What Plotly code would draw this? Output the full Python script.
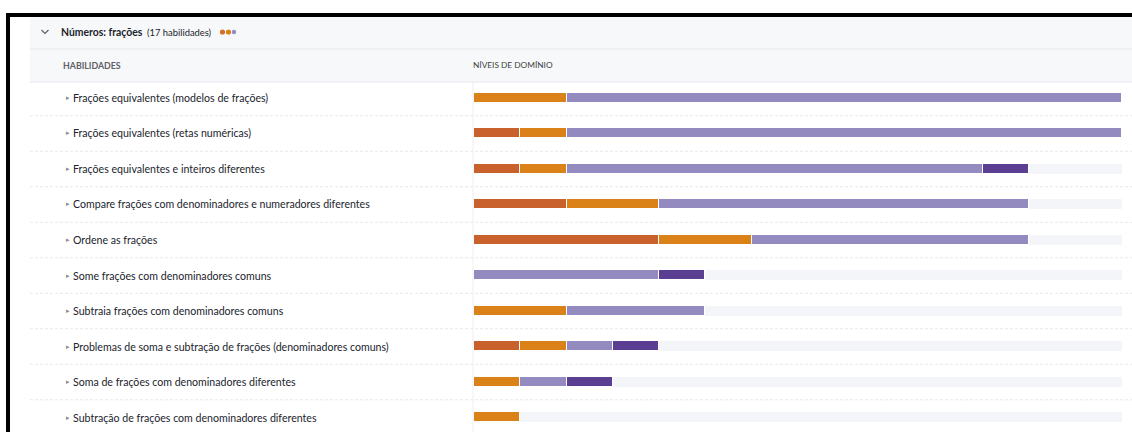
import plotly.graph_objects as go

W, H = 1132, 432

skills = [
    "Frações equivalentes (modelos de frações)",
    "Frações equivalentes (retas numéricas)",
    "Frações equivalentes e inteiros diferentes",
    "Compare frações com denominadores e numeradores diferentes",
    "Ordene as frações",
    "Some frações com denominadores comuns",
    "Subtraia frações com denominadores comuns",
    "Problemas de soma e subtração de frações (denominadores comuns)",
    "Soma de frações com denominadores diferentes",
    "Subtração de frações com denominadores diferentes",
]
tentado = [0, 1, 1, 2, 4, 0, 0, 1, 0, 0]
familiar = [2, 1, 1, 2, 2, 0, 2, 1, 1, 1]
proficiente = [12, 12, 9, 8, 6, 4, 3, 1, 1, 0]
dominado = [0, 0, 1, 0, 0, 1, 0, 1, 1, 0]
total_units = 14

level_names = ["Tentado", "Familiarizado", "Proficiente", "Dominado"]
level_colors = ["#C8612B", "#DA8217", "#938AC0", "#5A3E92"]
track_color = "#F4F5F8"

def px(x):
    return x / W

def py(y):
    return 1 - y / H

rows = list(range(len(skills)))
fig = go.Figure()
series = [tentado, familiar, proficiente, dominado]
for name, vals, col in zip(level_names, series, level_colors):
    fig.add_trace(go.Bar(
        y=rows, x=vals, orientation="h", name=name,
        marker=dict(color=col, line=dict(color="white", width=1)),
        width=0.29, hoverinfo="skip"))
remaining = [total_units - sum(v) for v in zip(*series)]
fig.add_trace(go.Bar(
    y=rows, x=remaining, orientation="h", name="",
    marker=dict(color=track_color, line=dict(color=track_color, width=0)),
    width=0.29, hoverinfo="skip"))

shapes = []
# black frame
shapes.append(dict(type="rect", xref="paper", yref="paper", x0=px(6), x1=px(10), y0=py(432), y1=py(13),
                   fillcolor="#000000", line=dict(width=0), layer="above"))
shapes.append(dict(type="rect", xref="paper", yref="paper", x0=px(6), x1=px(1132), y0=py(17), y1=py(13),
                   fillcolor="#000000", line=dict(width=0), layer="above"))
# header gray band
shapes.append(dict(type="rect", xref="paper", yref="paper", x0=px(30), x1=px(1132), y0=py(82), y1=py(17),
                   fillcolor="#F7F8FA", line=dict(width=0), layer="below"))
for yy in (49, 82):
    shapes.append(dict(type="line", xref="paper", yref="paper", x0=px(30), x1=px(1132), y0=py(yy), y1=py(yy),
                       line=dict(color="#E4E6EA", width=1), layer="below"))
# vertical divider
shapes.append(dict(type="line", xref="paper", yref="paper", x0=px(473), x1=px(473), y0=py(432), y1=py(82),
                   line=dict(color="#EDEEF1", width=1), layer="below"))
# dashed row separators
for r in rows[:-1]:
    shapes.append(dict(type="line", xref="paper", yref="y", x0=px(30), x1=px(1132), y0=r + 0.5, y1=r + 0.5,
                       line=dict(color="#E6E8EC", width=1, dash="3px,2px"), layer="below"))
# chevron
shapes.append(dict(type="path", xref="paper", yref="paper",
                   path=f"M {px(41.5)} {py(30)} L {px(45)} {py(33.5)} L {px(48.5)} {py(30)}",
                   line=dict(color="#5E6166", width=1.2)))
# dots
for cx, col, r in ((222.5, "#D0702A", 2.6), (228.5, "#DA8217", 2.6), (234, "#938AC0", 2.2)):
    shapes.append(dict(type="circle", xref="paper", yref="paper", x0=px(cx - r), x1=px(cx + r),
                       y0=py(32 + r), y1=py(32 - r), fillcolor=col, line=dict(width=0)))

annotations = []
annotations.append(dict(xref="paper", yref="paper", x=px(59), y=py(32), xanchor="left", yanchor="middle",
                        text="<b>Números: frações</b>", showarrow=False,
                        font=dict(family="Lato", size=10.4, color="#21242C")))
annotations.append(dict(xref="paper", yref="paper", x=px(145), y=py(32.5), xanchor="left", yanchor="middle",
                        text="(17 habilidades)", showarrow=False,
                        font=dict(family="Lato", size=9.4, color="#21242C")))
annotations.append(dict(xref="paper", yref="paper", x=px(61), y=py(65.5), xanchor="left", yanchor="middle",
                        text="<b>HABILIDADES</b>", showarrow=False,
                        font=dict(family="Lato", size=8.8, color="#5E6166")))
annotations.append(dict(xref="paper", yref="paper", x=px(471), y=py(65.5), xanchor="left", yanchor="middle",
                        text="NÍVEIS DE DOMÍNIO", showarrow=False,
                        font=dict(family="Lato", size=8.3, color="#3B3E42")))
for r, s in zip(rows, skills):
    annotations.append(dict(xref="paper", yref="y", x=px(64), y=r, xanchor="left", yanchor="middle",
                            text="▸", showarrow=False,
                            font=dict(family="DejaVu Sans", size=7, color="#8A8D92")))
    annotations.append(dict(xref="paper", yref="y", x=px(71), y=r, xanchor="left", yanchor="middle",
                            text=s, showarrow=False,
                            font=dict(family="Lato", size=10.6, color="#21242C")))

row_px = 35.5
top_px = 80.25
visible_rows = (H - top_px) / row_px

fig.update_layout(
    width=W, height=H, margin=dict(l=0, r=0, t=0, b=0),
    paper_bgcolor="white", plot_bgcolor="rgba(0,0,0,0)",
    barmode="stack", bargap=0, showlegend=False,
    xaxis=dict(domain=[px(474), px(1122)], range=[0, total_units], visible=False, fixedrange=True),
    yaxis=dict(domain=[0, py(top_px)], range=[-0.5 + visible_rows, -0.5], visible=False, fixedrange=True),
    shapes=shapes, annotations=annotations,
)
fig.write_html("out.html", config={"displayModeBar": False},
               post_script="document.body.style.margin='0';document.body.style.overflow='hidden';")
